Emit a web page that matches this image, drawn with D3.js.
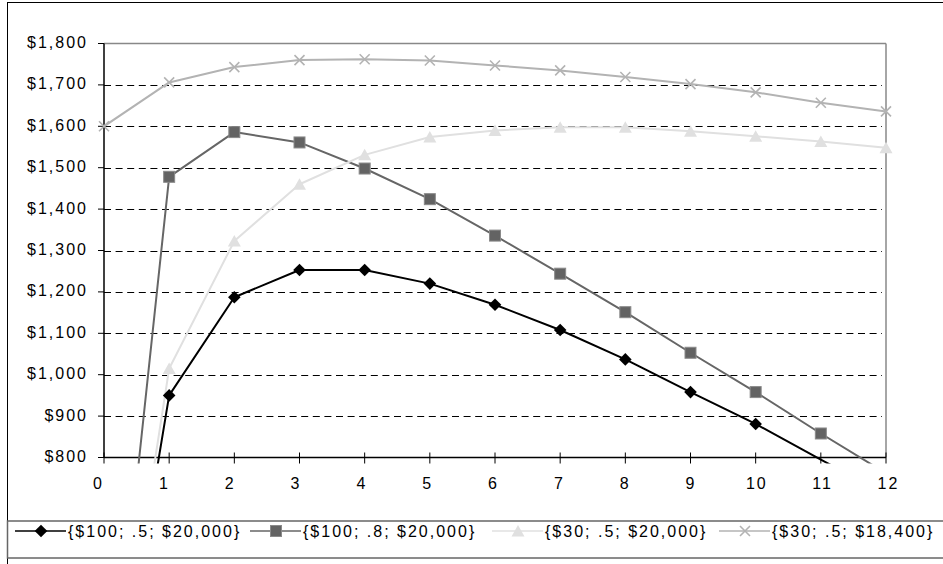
<!DOCTYPE html>
<html>
<head>
<meta charset="utf-8">
<script src="https://cdn.jsdelivr.net/npm/d3@7/dist/d3.min.js"></script>
<style>
  html, body { margin: 0; padding: 0; background: #fff; }
  svg { display: block; }
  text { font-family: "Liberation Sans", Arial, sans-serif; font-size: 16px; letter-spacing: 2px; fill: #000; }
</style>
</head>
<body>
<svg id="chart" width="943" height="564"></svg>
<script>
// ---- data ----
const periods = [0, 1, 2, 3, 4, 5, 6, 7, 8, 9, 10, 11, 12];
const seriesNames = ["{$100; .5; $20,000}", "{$100; .8; $20,000}", "{$30; .5; $20,000}", "{$30; .5; $18,400}"];
const s1Values = [0, 950, 1187, 1253, 1253, 1220, 1169, 1108, 1037, 958, 881, 795, 710];
const s2Values = [0, 1478, 1586, 1561, 1498, 1424, 1336, 1244, 1151, 1053, 958, 858, 762];
const s3Values = [0, 1015, 1323, 1460, 1531, 1574, 1590, 1598, 1598, 1588, 1576, 1563, 1548];
const s4Values = [1600, 1706, 1743, 1760, 1762, 1759, 1747, 1735, 1719, 1702, 1682, 1657, 1636];
const yTicks = [800, 900, 1000, 1100, 1200, 1300, 1400, 1500, 1600, 1700, 1800];
const xTicks = [0, 1, 2, 3, 4, 5, 6, 7, 8, 9, 10, 11, 12];

// ---- layout ----
const svg = d3.select("#chart");
const L = 104, R = 886, T = 43.5, B = 457.5;
const x = d3.scaleLinear().domain([0, 12]).range([L, R]);
const xLabel = d3.scaleLinear().domain([0, 12]).range([98.5, 888.5]);
const y = d3.scaleLinear().domain([800, 1800]).range([B, T]);
const fmt = v => "$" + d3.format(",")(v);

const styles = [
  { line: "#000000", width: 2, marker: "diamond", fill: "#000000", stroke: "none" },
  { line: "#666666", width: 2, marker: "square", fill: "#636363", stroke: "#8a8a8a" },
  { line: "#e0e0e0", width: 2, marker: "triangle", fill: "#e0e0e0", stroke: "none" },
  { line: "#b3b3b3", width: 2, marker: "cross", fill: "none", stroke: "#b3b3b3" }
];
const allSeries = [s1Values, s2Values, s3Values, s4Values];

function drawMarker(g, type, st) {
  if (type === "diamond") {
    g.append("path").attr("d", "M0,-6.3L6.3,0L0,6.3L-6.3,0Z").attr("fill", st.fill);
  } else if (type === "square") {
    g.append("rect").attr("x", -5.5).attr("y", -5.5).attr("width", 11).attr("height", 11)
      .attr("fill", st.fill).attr("stroke", st.stroke).attr("stroke-width", 1);
  } else if (type === "triangle") {
    g.append("path").attr("d", "M0,-6L6.5,5.5L-6.5,5.5Z").attr("fill", st.fill);
  } else if (type === "cross") {
    g.append("path").attr("d", "M-5,-5L5,5M-5,5L5,-5").attr("fill", "none")
      .attr("stroke", st.stroke).attr("stroke-width", 1.6);
  }
}

// outer chart border
svg.append("rect").attr("x", 7.5).attr("y", 2.5).attr("width", 1000).attr("height", 700)
  .attr("fill", "none").attr("stroke", "#000").attr("stroke-width", 1);

// gridlines
svg.append("g").selectAll("line").data(yTicks.filter(v => v > 800 && v < 1800)).join("line")
  .attr("x1", L).attr("x2", R - 4).attr("y1", d => Math.round(y(d)) + 0.5).attr("y2", d => Math.round(y(d)) + 0.5)
  .attr("stroke", "#000").attr("stroke-width", 1).attr("stroke-dasharray", "7,4.6");

// plot area top and right border
svg.append("line").attr("x1", L).attr("x2", R).attr("y1", T).attr("y2", T).attr("stroke", "#888").attr("stroke-width", 1.5);
svg.append("line").attr("x1", R).attr("x2", R).attr("y1", T).attr("y2", B).attr("stroke", "#888").attr("stroke-width", 1.5);

// axes
svg.append("line").attr("x1", L).attr("x2", L).attr("y1", T).attr("y2", B).attr("stroke", "#000").attr("stroke-width", 1.5);
svg.append("line").attr("x1", L).attr("x2", R).attr("y1", B).attr("y2", B).attr("stroke", "#000").attr("stroke-width", 1.5);
svg.append("g").selectAll("line").data(yTicks).join("line")
  .attr("x1", L - 6).attr("x2", L).attr("y1", d => y(d)).attr("y2", d => y(d)).attr("stroke", "#000").attr("stroke-width", 1);
svg.append("g").selectAll("line").data(xTicks).join("line")
  .attr("x1", d => x(d)).attr("x2", d => x(d)).attr("y1", B - 5).attr("y2", B + 6).attr("stroke", "#000").attr("stroke-width", 1);

svg.append("g").selectAll("text").data(yTicks).join("text")
  .attr("x", 88).attr("y", d => y(d) + 4.5).attr("text-anchor", "end").text(fmt);
svg.append("g").selectAll("text").data(xTicks).join("text")
  .attr("x", d => xLabel(d)).attr("y", 488.5).attr("text-anchor", "middle").text(d => d);

// clip
svg.append("clipPath").attr("id", "plotclip").append("rect")
  .attr("x", L).attr("y", T - 8).attr("width", R - L + 8).attr("height", B - T + 14);

const line = d3.line().x((d, i) => x(periods[i])).y(d => y(d));
const plot = svg.append("g").attr("clip-path", "url(#plotclip)");
allSeries.forEach((vals, si) => {
  const st = styles[si];
  plot.append("path").datum(vals).attr("d", line).attr("fill", "none")
    .attr("stroke", st.line).attr("stroke-width", st.width).attr("stroke-linejoin", "round");
});
allSeries.forEach((vals, si) => {
  const st = styles[si];
  vals.forEach((v, i) => {
    if (v < 800 || v > 1800) return;
    const g = svg.append("g").attr("transform", `translate(${x(periods[i])},${y(v)})`);
    drawMarker(g, st.marker, st);
  });
});

// legend
svg.append("rect").attr("x", 7.5).attr("y", 521).attr("width", 1000).attr("height", 37)
  .attr("fill", "none").attr("stroke", "#666").attr("stroke-width", 1.5);
const legendX = [15, 250, 492, 719];
seriesNames.forEach((name, si) => {
  const st = styles[si];
  const lx = legendX[si];
  const ly = 531;
  svg.append("line").attr("x1", lx).attr("x2", lx + 51).attr("y1", ly).attr("y2", ly)
    .attr("stroke", st.line).attr("stroke-width", 1.5);
  const g = svg.append("g").attr("transform", `translate(${lx + 26},${ly})`);
  drawMarker(g, st.marker, st);
  svg.append("text").attr("x", lx + 53).attr("y", 537).text(name);
});
</script>
</body>
</html>
